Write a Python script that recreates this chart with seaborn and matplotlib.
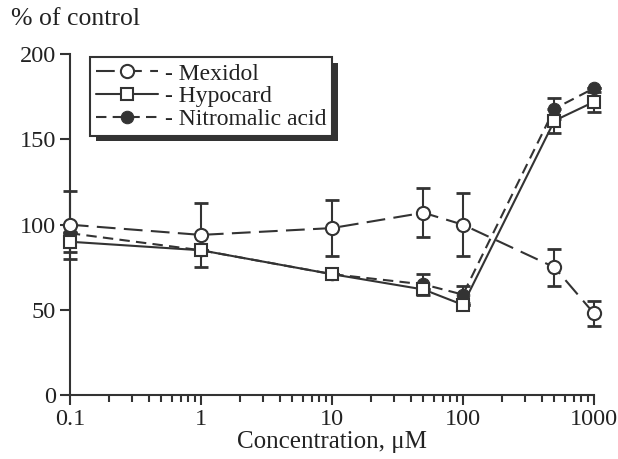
import matplotlib
matplotlib.use("Agg")
import matplotlib.pyplot as plt
import matplotlib.patheffects as pe
import seaborn as sns
import pandas as pd
import numpy as np
from matplotlib.ticker import LogLocator, NullFormatter, FixedLocator

conc = [0.1, 1, 10, 50, 100, 500, 1000]
conc_labels = ["0.1", "1", "10", "100", "1000"]
mexidol = [100, 94, 98, 107, 100, 75, 48]
mexidol_err = [20, 19, 16.5, 14.5, 18.5, 11, 7.5]
hypocard = [90, 85, 71, 62, 53, 161, 172]
hypocard_err = [6, 0, 0, 0, 0, 7, 6]
nitro = [95, 85, 71, 65, 59, 168, 180]
nitro_err = [0, 0, 0, 6, 5, 6, 0]
y_ticks = [0, 50, 100, 150, 200]

sns.set_theme(style="white")
plt.rcParams["font.family"] = ["Liberation Serif", "DejaVu Serif"]

ink = "#333333"
txt = "#222222"
fig = plt.figure(figsize=(6.18, 4.59), dpi=100)
ax = fig.add_axes([0.113, 0.139, 0.848, 0.743])

df = pd.DataFrame({"conc": conc, "Mexidol": mexidol, "Hypocard": hypocard,
                   "Nitromalic acid": nitro})

sns.lineplot(data=df, x="conc", y="Nitromalic acid", ax=ax, color=ink, lw=1.5,
             marker="o", markersize=9, markerfacecolor=ink, markeredgecolor=ink,
             label="Nitromalic acid", clip_on=False, zorder=3)
ax.lines[-1].set_dashes([5, 3])
sns.lineplot(data=df, x="conc", y="Hypocard", ax=ax, color=ink, lw=1.5,
             marker="s", markersize=9, markerfacecolor="white", markeredgecolor=ink,
             markeredgewidth=1.5, label="Hypocard", clip_on=False, zorder=4)
sns.lineplot(data=df, x="conc", y="Mexidol", ax=ax, color=ink, lw=1.5,
             marker="o", markersize=9.5, markerfacecolor="white", markeredgecolor=ink,
             markeredgewidth=1.5, label="Mexidol", clip_on=False, zorder=5)
ax.lines[-1].set_dashes([9, 4])

for y, e in [(mexidol, mexidol_err), (hypocard, hypocard_err), (nitro, nitro_err)]:
    ax.errorbar(conc, y, yerr=e, fmt="none", ecolor=ink, elinewidth=1.5,
                capsize=5, capthick=2, clip_on=False, zorder=2)

ax.set_xscale("log")
ax.set_xlim(0.1, 1000)
ax.set_ylim(0, 200)
ax.set_yticks(y_ticks)
ax.xaxis.set_major_locator(FixedLocator([float(s) for s in conc_labels]))
ax.set_xticklabels(conc_labels)
ax.xaxis.set_minor_locator(LogLocator(base=10, subs=np.arange(2, 10)))
ax.xaxis.set_minor_formatter(NullFormatter())

for s in ["top", "right"]:
    ax.spines[s].set_visible(False)
for s in ["left", "bottom"]:
    ax.spines[s].set_color(ink)
    ax.spines[s].set_linewidth(1.5)
ax.tick_params(axis="both", which="major", direction="out", length=7, width=1.5,
               color=ink, labelsize=17.5, labelcolor=txt, pad=3, bottom=True, left=True)
ax.tick_params(axis="x", which="minor", direction="out", length=5, width=1.5,
               color=ink, bottom=True)

ax.set_xlabel("Concentration, μM", fontsize=18, color=txt, labelpad=1)
ax.set_ylabel("")
fig.text(0.018, 0.945, "% of control", fontsize=18.5, color=txt, ha="left", va="baseline")

handles, labels = ax.get_legend_handles_labels()
order = [labels.index("Mexidol"), labels.index("Hypocard"), labels.index("Nitromalic acid")]
leg = ax.legend([handles[i] for i in order], ["- " + labels[i] for i in order],
                loc="upper left", bbox_to_anchor=(0.03, 1.005), fontsize=17,
                frameon=True, fancybox=False, framealpha=1.0, handlelength=2.6,
                handletextpad=0.3, borderpad=0.25, labelspacing=0.05, borderaxespad=0.2)
frame = leg.get_frame()
frame.set_facecolor("white")
frame.set_edgecolor(ink)
frame.set_linewidth(1.5)
frame.set_path_effects([pe.SimplePatchShadow(offset=(4, -4), shadow_rgbFace=ink, alpha=1.0),
                        pe.Normal()])
for t in leg.get_texts():
    t.set_color(txt)

fig.savefig("out.png", dpi=100)
